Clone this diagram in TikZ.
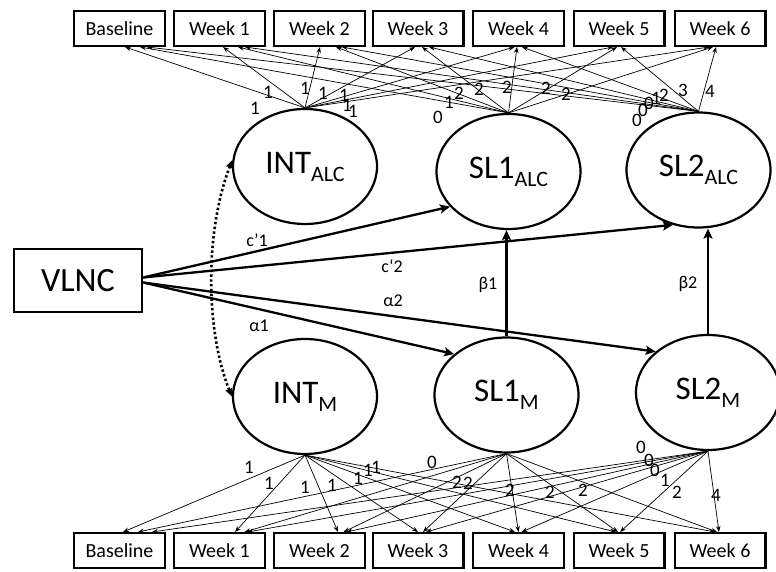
\documentclass[tikz,border=0pt]{standalone}
\usepackage{fontspec}
\setmainfont{Carlito}
\usetikzlibrary{arrows.meta,shapes.geometric,calc}

% latent variable label: large name with lowered subscript
\newcommand\lvname[2]{{\fontsize{33}{33}\selectfont #1}{\fontsize{22}{22}\selectfont\raisebox{-8pt}{#2}}}

\begin{document}
\begin{tikzpicture}[x=1pt,y=-1pt,
  obs/.style={draw,line width=2.2pt,minimum width=90.8pt,minimum height=34.8pt,inner sep=0pt,font=\fontsize{20}{20}\selectfont},
  lat/.style={draw,ellipse,line width=2.2pt,minimum width=144pt,minimum height=115pt,inner sep=0pt},
  load/.style={line width=0.7pt,-{Stealth[length=6pt,width=4.5pt]}},
  pathar/.style={line width=2.3pt,-{Stealth[length=10pt,width=9pt,inset=2pt]}},
  dotarrow/.style={line width=2.6pt,dash pattern=on 2.4pt off 2.4pt,{Stealth[length=8pt,width=7pt,inset=1pt]}-{Stealth[length=8pt,width=7pt,inset=1pt]}},
  num/.style={font=\fontsize{19}{19}\selectfont,inner sep=0pt},
  coef/.style={font=\fontsize{18}{18}\selectfont,inner sep=0pt}]
\useasboundingbox (0,0) rectangle (776,572);

% observed measures, top (alcohol) and bottom (marijuana)
\foreach \n/\x/\t in {0/119.5/Baseline,1/219.5/Week 1,2/319.5/Week 2,3/418/Week 3,4/518.5/Week 4,5/619/Week 5,6/720/Week 6}{
  \node[obs] (tb\n) at (\x,28.5) {\t};
  \node[obs] (bb\n) at (\x,550.5) {\t};
}

% predictor
\node[draw,line width=2.2pt,minimum width=128pt,minimum height=63pt,inner sep=0pt,font=\fontsize{34}{34}\selectfont] (VLNC) at (78,280.5) {VLNC};

% latent growth factors
\node[lat] (INTa) at (305,166.5) {\lvname{INT}{ALC}};
\node[lat] (SL1a) at (508.5,171.5) {\lvname{SL1}{ALC}};
\node[lat] (SL2a) at (698.5,170) {\lvname{SL2}{ALC}};
\node[lat] (INTm) at (305,396.5) {\lvname{INT}{M}};
\node[lat] (SL1m) at (506.5,395) {\lvname{SL1}{M}};
\node[lat] (SL2m) at (708,392.5) {\lvname{SL2}{M}};

% factor loadings, alcohol
\foreach \b/\da/\db/\dc in {tb0/5.5/20.5/27.5,tb1/3.5/18.5/25.5,tb2/0.5/16.5/22.5,tb3/-3/4/11,tb4/-4/-1.5/3.5,tb5/-6/-2/2,tb6/-11/-7/-4}{
  \draw[load] (INTa.north) -- ($(\b.south)+(\da,0)$);
  \draw[load] (SL1a.north) -- ($(\b.south)+(\db,0)$);
  \draw[load] (SL2a.north) -- ($(\b.south)+(\dc,0)$);
}
% factor loadings, marijuana
\foreach \b/\da/\db/\dc in {bb0/3.5/18.5/32.5,bb1/15.5/25/28,bb2/18.5/24/27,bb3/0/5/8,bb4/-3.5/0/3,bb5/-3/-1/1,bb6/-5/-3/-1}{
  \draw[load] (INTm.south) -- ($(\b.north)+(\da,0)$);
  \draw[load] (SL1m.south) -- ($(\b.north)+(\db,0)$);
  \draw[load] (SL2m.south) -- ($(\b.north)+(\dc,0)$);
}

% loading values, alcohol
\foreach \i/\x/\y/\v in {1/255/108/1,2/268/92/1,3/305/88/1,4/323/93/1,5/344/95/1,6/347/105/1,7/353/111/1,
  8/438/117/0,9/449/102/1,10/459/93/2,11/479/89/2,12/507/87/2,13/546/88/2,14/566/94/2,
  15/637/120/0,16/643/110/0,17/649/103/0,18/656/98/1,19/664/95/2,20/683/90/3,21/710/91/4}{
  \node[num] (la\i) at (\x,\y) {\v};
}
% loading values, marijuana
\foreach \i/\x/\y/\v in {1/249/467/1,2/269/483/1,3/305/487/1,4/332/485/1,5/358/478/1,6/368/470/1,7/376/467/1,
  8/432/462/0,9/457/482/2,10/468/483/2,11/510/490/2,12/550/492/2,13/583/490/2,
  14/641/447/0,15/649/460/0,16/655/470/0,17/665/480/1,18/677/492/2,19/716/495/4}{
  \node[num] (lm\i) at (\x,\y) {\v};
}

% structural paths
\draw[pathar] ($(VLNC.east)+(0,-3)$) -- (SL1a.211);
\draw[pathar] ($(VLNC.east)+(0,-3)$) -- (SL2a.245);
\draw[pathar] ($(VLNC.east)+(0,2)$) -- (SL1m.142);
\draw[pathar] ($(VLNC.east)+(0,2)$) -- (SL2m.142);
\draw[pathar] (SL1m.north) -- (SL1m.north |- SL1a.south);
\draw[pathar] (SL2m.north) -- (SL2m.north |- SL2a.south);

% covariance between intercepts
\draw[dotarrow] (INTa.175) .. controls (205,230) and (205,330) .. (INTm.180);

% path coefficients
\node[coef] (c1) at (257,240) {c’1};
\node[coef] (c2) at (392,266) {c‘2};
\node[coef] (a2) at (393,301) {α2};
\node[coef] (a1) at (259,326) {α1};
\node[coef] (b1) at (488,285) {β1};
\node[coef] (b2) at (688,284) {β2};
\end{tikzpicture}
\end{document}
